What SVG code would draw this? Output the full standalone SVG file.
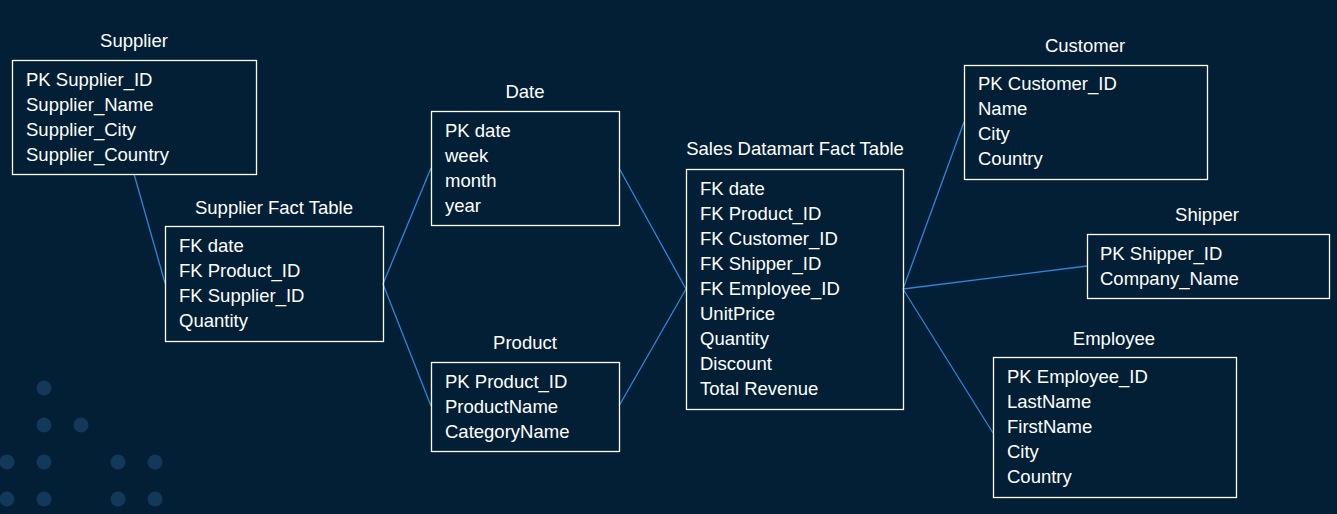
<svg xmlns="http://www.w3.org/2000/svg" width="1337" height="514" viewBox="0 0 1337 514">
<style>
.bg{fill:#021f36}
.dot{fill:#12395a}
.box{fill:none;stroke:#ffffff;stroke-width:1.3}
.t{font-family:"Liberation Sans",Arial,sans-serif;font-size:18.5px;fill:#ffffff}
.title{text-anchor:middle}
.conn line{stroke:#2f86dc;stroke-width:1.3}
</style>
<rect class="bg" x="0" y="0" width="1337" height="514"/>
<g id="dots">
<circle class="dot" cx="44" cy="388" r="7.5"/>
<circle class="dot" cx="44" cy="425" r="7.5"/>
<circle class="dot" cx="81" cy="425" r="7.5"/>
<circle class="dot" cx="7" cy="462" r="7.5"/>
<circle class="dot" cx="44" cy="462" r="7.5"/>
<circle class="dot" cx="118" cy="462" r="7.5"/>
<circle class="dot" cx="155" cy="462" r="7.5"/>
<circle class="dot" cx="7" cy="499" r="7.5"/>
<circle class="dot" cx="44" cy="499" r="7.5"/>
<circle class="dot" cx="118" cy="499" r="7.5"/>
<circle class="dot" cx="155" cy="499" r="7.5"/>
</g>
<g class="conn" id="connectors">
<line x1="134" y1="174" x2="165" y2="283"/>
<line x1="383" y1="284" x2="431" y2="168"/>
<line x1="383" y1="284" x2="431" y2="406"/>
<line x1="619" y1="168" x2="686" y2="289"/>
<line x1="619" y1="406" x2="686" y2="289"/>
<line x1="903" y1="289" x2="964" y2="122"/>
<line x1="903" y1="289" x2="1087" y2="266"/>
<line x1="903" y1="289" x2="993" y2="433"/>
</g>
<g id="supplier">
<text class="t title" x="134" y="47">Supplier</text>
<rect class="box" x="12.5" y="60.5" width="244" height="114"/>
<text class="t" x="26" y="86">PK Supplier_ID</text>
<text class="t" x="26" y="111">Supplier_Name</text>
<text class="t" x="26" y="136">Supplier_City</text>
<text class="t" x="26" y="161">Supplier_Country</text>
</g>
<g id="supplier-fact">
<text class="t title" x="274" y="214">Supplier Fact Table</text>
<rect class="box" x="165.5" y="226.5" width="218" height="115"/>
<text class="t" x="179" y="252">FK date</text>
<text class="t" x="179" y="277">FK Product_ID</text>
<text class="t" x="179" y="302">FK Supplier_ID</text>
<text class="t" x="179" y="327">Quantity</text>
</g>
<g id="date">
<text class="t title" x="525" y="98">Date</text>
<rect class="box" x="431.5" y="111.5" width="188" height="114"/>
<text class="t" x="445" y="137">PK date</text>
<text class="t" x="445" y="162">week</text>
<text class="t" x="445" y="187">month</text>
<text class="t" x="445" y="212">year</text>
</g>
<g id="product">
<text class="t title" x="525" y="349">Product</text>
<rect class="box" x="431.5" y="362.5" width="188" height="89"/>
<text class="t" x="445" y="388">PK Product_ID</text>
<text class="t" x="445" y="413">ProductName</text>
<text class="t" x="445" y="438">CategoryName</text>
</g>
<g id="sales-fact">
<text class="t title" x="795" y="155">Sales Datamart Fact Table</text>
<rect class="box" x="686.5" y="169.5" width="217" height="240"/>
<text class="t" x="700" y="195">FK date</text>
<text class="t" x="700" y="220">FK Product_ID</text>
<text class="t" x="700" y="245">FK Customer_ID</text>
<text class="t" x="700" y="270">FK Shipper_ID</text>
<text class="t" x="700" y="295">FK Employee_ID</text>
<text class="t" x="700" y="320">UnitPrice</text>
<text class="t" x="700" y="345">Quantity</text>
<text class="t" x="700" y="370">Discount</text>
<text class="t" x="700" y="395">Total Revenue</text>
</g>
<g id="customer">
<text class="t title" x="1085" y="52">Customer</text>
<rect class="box" x="964.5" y="65.5" width="243" height="114"/>
<text class="t" x="978" y="90">PK Customer_ID</text>
<text class="t" x="978" y="115">Name</text>
<text class="t" x="978" y="140">City</text>
<text class="t" x="978" y="165">Country</text>
</g>
<g id="shipper">
<text class="t title" x="1207" y="221">Shipper</text>
<rect class="box" x="1087.5" y="234.5" width="242" height="64"/>
<text class="t" x="1100" y="260">PK Shipper_ID</text>
<text class="t" x="1100" y="285">Company_Name</text>
</g>
<g id="employee">
<text class="t title" x="1114" y="345">Employee</text>
<rect class="box" x="993.5" y="357.5" width="243" height="140"/>
<text class="t" x="1007" y="383">PK Employee_ID</text>
<text class="t" x="1007" y="408">LastName</text>
<text class="t" x="1007" y="433">FirstName</text>
<text class="t" x="1007" y="458">City</text>
<text class="t" x="1007" y="483">Country</text>
</g>
</svg>
